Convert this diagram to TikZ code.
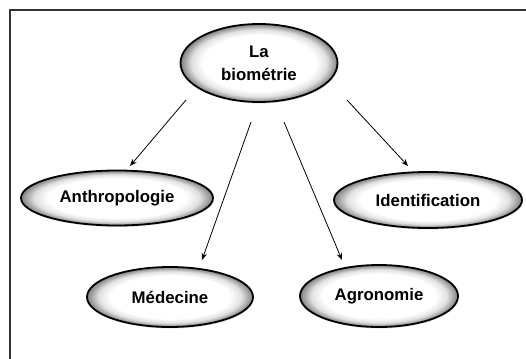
\documentclass[tikz,border=0pt]{standalone}
\usepackage{fontspec}
\setmainfont{Liberation Sans}
\usetikzlibrary{shapes.geometric,arrows.meta,shadows}
% white body that greys towards the rim of the ellipse
\pgfdeclareradialshading{rimshade}{\pgfpointorigin}{%
  color(0bp)=(white); color(18bp)=(white); color(21.5bp)=(black!12);
  color(25bp)=(black!50); color(50bp)=(black!50)}
\begin{document}
\begin{tikzpicture}[x=1pt,y=-1pt,
  topic/.style={ellipse, draw=black, line width=1.8pt, inner sep=0pt,
    shading=rimshade,
    drop shadow={shadow xshift=0.6pt, shadow yshift=-1.4pt, opacity=0.3},
    font=\fontsize{16.8}{23}\selectfont\bfseries, align=center},
  link/.style={line width=0.8pt, -{Stealth[length=7pt,width=5.5pt]}}]
\useasboundingbox (0,0) rectangle (526,358);
% outer frame (open to the right and bottom)
\draw[line width=2pt, black!80] (540,10.5) -- (10,10.5) -- (10,370);
% topics
\node[topic, minimum width=157pt, minimum height=78pt] (bio) at (259,63) {La\\biométrie};
\node[topic, minimum width=192pt, minimum height=55pt] (anthro) at (117,198) {Anthropologie};
\node[topic, minimum width=188pt, minimum height=56pt] (ident) at (428,200) {Identification};
\node[topic, minimum width=166pt, minimum height=60pt] (med) at (170,297) {Médecine};
\node[topic, minimum width=158pt, minimum height=62pt] (agro) at (379,296) {Agronomie};
% arrow end points
\coordinate (s1) at (186,100);
\coordinate (e1) at (130,166);
\coordinate (s2) at (251,122);
\coordinate (e2) at (202,260);
\coordinate (s3) at (284,122);
\coordinate (e3) at (342,260);
\coordinate (s4) at (347,100);
\coordinate (e4) at (408,166);
\draw[link] (s1) -- (e1);
\draw[link] (s2) -- (e2);
\draw[link] (s3) -- (e3);
\draw[link] (s4) -- (e4);
\end{tikzpicture}
\end{document}
